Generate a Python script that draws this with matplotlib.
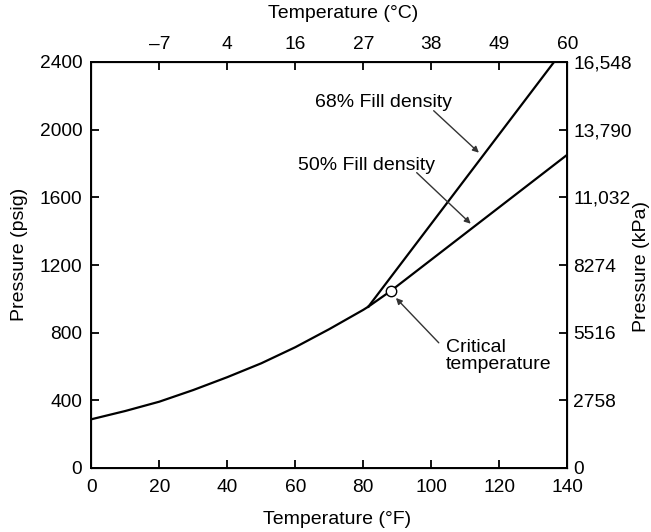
import matplotlib
matplotlib.use('Agg')
import matplotlib.pyplot as plt

plt.rcParams['font.family'] = ['Liberation Sans', 'DejaVu Sans']

# vapour pressure curve (deg F, psig)
vap_temp_f = [0, 10, 20, 30, 40, 50, 60, 70, 80, 81.5]
vap_psig = [288, 337, 392, 461, 537, 619, 714, 821, 935, 954]

# fill density lines above the junction
fill50_temp_f = [81.5, 88.1, 140]
fill50_psig = [954, 1047, 1852]
fill68_temp_f = [81.5, 136.1]
fill68_psig = [954, 2400]

crit_temp_f = 88.1
crit_psig = 1047

f_ticks = [0, 20, 40, 60, 80, 100, 120, 140]
c_ticks = [20, 40, 60, 80, 100, 120, 140]
c_labels = ['\u20137', '4', '16', '27', '38', '49', '60']
psig_ticks = [0, 400, 800, 1200, 1600, 2000, 2400]
kpa_labels = ['0', '2758', '5516', '8274', '11,032', '13,790', '16,548']

tick_fs = 13.8
lab_fs = 14
note_fs = 14

W, H = 651, 532
fig = plt.figure(figsize=(W / 100, H / 100), dpi=100)
ax = fig.add_axes([91.3 / W, 64 / H, 476 / W, 406 / H])

lw = 1.6
ax.plot(vap_temp_f, vap_psig, color='black', lw=lw)
ax.plot(fill50_temp_f, fill50_psig, color='black', lw=lw)
ax.plot(fill68_temp_f, fill68_psig, color='black', lw=lw)
ax.plot([crit_temp_f], [crit_psig], 'o', ms=7.5, mfc='white', mec='black',
        mew=1.0, zorder=5)

ax.set_xlim(0, 140)
ax.set_ylim(0, 2400)
ax.set_xticks(f_ticks)
ax.set_yticks(psig_ticks)
ax.tick_params(direction='in', length=6, width=1.3, labelsize=tick_fs)
ax.tick_params(axis='x', pad=8)
ax.tick_params(axis='y', pad=6.5)
for s in ax.spines.values():
    s.set_linewidth(1.4)

top = ax.twiny()
top.set_xlim(ax.get_xlim())
top.set_xticks(c_ticks)
top.set_xticklabels(c_labels)
top.tick_params(direction='in', length=6, width=1.3, labelsize=tick_fs,
                pad=6.5)

right = ax.twinx()
right.set_ylim(ax.get_ylim())
right.set_yticks(psig_ticks)
right.set_yticklabels(kpa_labels)
right.tick_params(direction='in', length=6, width=1.3, labelsize=tick_fs,
                  pad=4.3)

# axis titles sit a little off-centre in the original, so place them directly
fig.text(337 / W, 1 - 519 / H, 'Temperature (\u00b0F)', fontsize=lab_fs,
         ha='center', va='center')
fig.text(343 / W, 1 - 14 / H, 'Temperature (\u00b0C)', fontsize=lab_fs,
         ha='center', va='center')
fig.text(20 / W, 1 - 254 / H, 'Pressure (psig)', fontsize=lab_fs,
         ha='center', va='center', rotation=90)
fig.text(642 / W, 1 - 266 / H, 'Pressure (kPa)', fontsize=lab_fs,
         ha='center', va='center', rotation=90)

arrow = dict(arrowstyle='-|>', color='#333333', lw=1.0, mutation_scale=9,
             shrinkA=0, shrinkB=0)
ax.text(85.8, 2160, '68% Fill density', fontsize=note_fs, ha='center',
        va='center')
ax.annotate('', xy=(114.0, 1864), xytext=(100.7, 2112), arrowprops=arrow)
ax.text(80.8, 1787, '50% Fill density', fontsize=note_fs, ha='center',
        va='center')
ax.annotate('', xy=(111.6, 1444), xytext=(95.7, 1746), arrowprops=arrow)
ax.text(104.3, 662, 'Critical\ntemperature', fontsize=note_fs, ha='left',
        va='center', linespacing=1.0)
ax.annotate('', xy=(89.6, 1005), xytext=(102.2, 740), arrowprops=arrow)

fig.savefig('out.png', dpi=100)
